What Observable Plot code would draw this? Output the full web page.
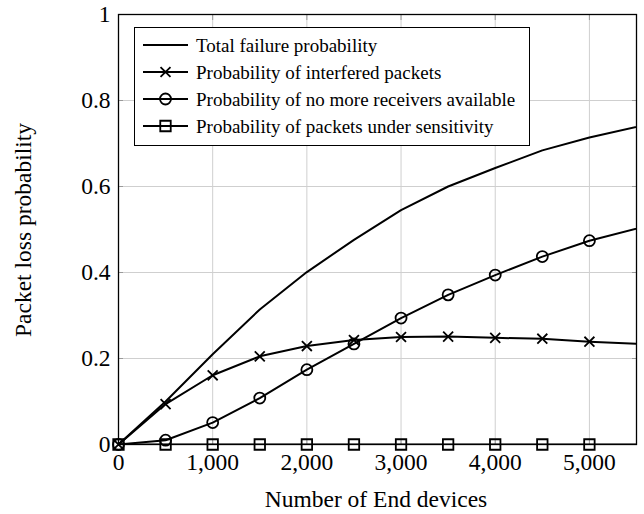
<!DOCTYPE html>
<html>
<head>
<meta charset="utf-8">
<script src="https://cdn.jsdelivr.net/npm/d3@7"></script>
<script src="https://cdn.jsdelivr.net/npm/@observablehq/plot@0.6"></script>
<style>
  html, body { margin: 0; padding: 0; background: #fff; }
  #chart { width: 644px; height: 514px; }
</style>
</head>
<body>
<div id="chart"></div>
<script>
// End devices (last point lies beyond the visible range; the line is clipped at the frame)
const devices = [0, 500, 1000, 1500, 2000, 2500, 3000, 3500, 4000, 4500, 5000, 6000];
const totalFailure = [0, 0.100, 0.210, 0.314, 0.401, 0.476, 0.545, 0.600, 0.643, 0.684, 0.714, 0.763];
const interfered   = [0, 0.094, 0.161, 0.205, 0.229, 0.243, 0.250, 0.251, 0.248, 0.246, 0.239, 0.229];
const noReceivers  = [0, 0.010, 0.051, 0.108, 0.174, 0.234, 0.294, 0.348, 0.394, 0.437, 0.474, 0.530];
const underSens    = [0, 0, 0, 0, 0, 0, 0, 0, 0, 0, 0, 0];

const seriesNames = [
  "Total failure probability",
  "Probability of interfered packets",
  "Probability of no more receivers available",
  "Probability of packets under sensitivity"
];
const seriesMarkers = [null, "times", "circle", "square"];
const seriesValues = [totalFailure, interfered, noReceivers, underSens];

const xTicks = [0, 1000, 2000, 3000, 4000, 5000];
const yTicks = [0, 0.2, 0.4, 0.6, 0.8, 1];

const xLabel = "Number of End devices";
const yLabel = "Packet loss probability";

const rows = [];
seriesValues.forEach((vals, si) => {
  vals.forEach((v, i) => rows.push({series: seriesNames[si], marker: seriesMarkers[si], x: devices[i], y: v}));
});
const XMAX = 5500;
const markerRows = rows.filter(d => d.marker && d.x <= XMAX);

const FONT = "Liberation Serif";
const markerR = {times: 4.6, circle: 5.5, square: 5.9};
const LW = 2;

const plot = Plot.plot({
  width: 644,
  height: 514,
  marginLeft: 118,
  marginRight: 8,
  marginTop: 14,
  marginBottom: 70,
  style: {background: "#fff", overflow: "visible", fontFamily: FONT},
  x: {domain: [0, XMAX], ticks: xTicks},
  y: {domain: [0, 1], ticks: yTicks},
  marks: [
    Plot.gridX(xTicks, {stroke: "#cfcfcf", strokeOpacity: 1, strokeWidth: 1}),
    Plot.gridY(yTicks, {stroke: "#cfcfcf", strokeOpacity: 1, strokeWidth: 1}),
    Plot.axisX(xTicks, {anchor: "bottom", tickSize: -5, text: null, stroke: "#9a9a9a", label: null}),
    Plot.axisX(xTicks, {anchor: "top", tickSize: -5, text: null, stroke: "#9a9a9a", label: null}),
    Plot.axisY(yTicks, {anchor: "left", tickSize: -5, text: null, stroke: "#9a9a9a", label: null}),
    Plot.axisY(yTicks, {anchor: "right", tickSize: -5, text: null, stroke: "#9a9a9a", label: null}),
    Plot.axisX(xTicks, {anchor: "bottom", tickSize: 0, tickPadding: 9, fontSize: 23.5, tickFormat: d3.format(","), label: null, fill: "#000"}),
    Plot.axisY(yTicks, {anchor: "left", tickSize: 0, tickPadding: 8, fontSize: 23.5, tickFormat: d => String(d), label: null, fill: "#000"}),
    Plot.line(rows, {x: "x", y: "y", z: "series", stroke: "#000", strokeWidth: LW, clip: true}),
    ...["times", "circle", "square"].map(sym =>
      Plot.dot(markerRows.filter(d => d.marker === sym), {
        x: "x", y: "y", symbol: () => sym, r: markerR[sym],
        stroke: "#000", strokeWidth: 1.8, fill: "none"
      })
    ),
    Plot.frame({stroke: "#000", strokeWidth: 1.3})
  ]
});

document.getElementById("chart").appendChild(plot);

const svg = d3.select(plot);
// Axis titles
svg.append("text")
  .attr("x", 376).attr("y", 507)
  .attr("text-anchor", "middle")
  .attr("font-size", 23.5)
  .attr("fill", "#000")
  .text(xLabel);
svg.append("text")
  .attr("transform", "translate(31,230) rotate(-90)")
  .attr("text-anchor", "middle")
  .attr("font-size", 23.5)
  .attr("fill", "#000")
  .text(yLabel);

// Legend
const lg = svg.append("g");
lg.append("rect").attr("x", 134.5).attr("y", 27.5).attr("width", 395).attr("height", 118)
  .attr("fill", "#fff").attr("stroke", "#000").attr("stroke-width", 1);
const symPath = {
  times: d3.symbol(d3.symbolTimes, Math.PI * markerR.times * markerR.times)(),
  circle: d3.symbol(d3.symbolCircle, Math.PI * markerR.circle * markerR.circle)(),
  square: d3.symbol(d3.symbolSquare, Math.PI * markerR.square * markerR.square)()
};
seriesNames.forEach((name, i) => {
  const cy = 45 + i * 27;
  lg.append("line").attr("x1", 143).attr("x2", 188).attr("y1", cy).attr("y2", cy)
    .attr("stroke", "#000").attr("stroke-width", LW);
  const m = seriesMarkers[i];
  if (m) {
    lg.append("path").attr("d", symPath[m]).attr("transform", `translate(165.5,${cy})`)
      .attr("fill", "none").attr("stroke", "#000").attr("stroke-width", 1.8);
  }
  lg.append("text").attr("x", 196).attr("y", cy).attr("dy", "0.35em")
    .attr("text-anchor", "start")
    .attr("font-size", 19).attr("fill", "#000")
    .text(name);
});

// make sure every text uses the serif face
svg.selectAll("text").attr("font-family", FONT).style("font-family", FONT);
</script>
</body>
</html>
